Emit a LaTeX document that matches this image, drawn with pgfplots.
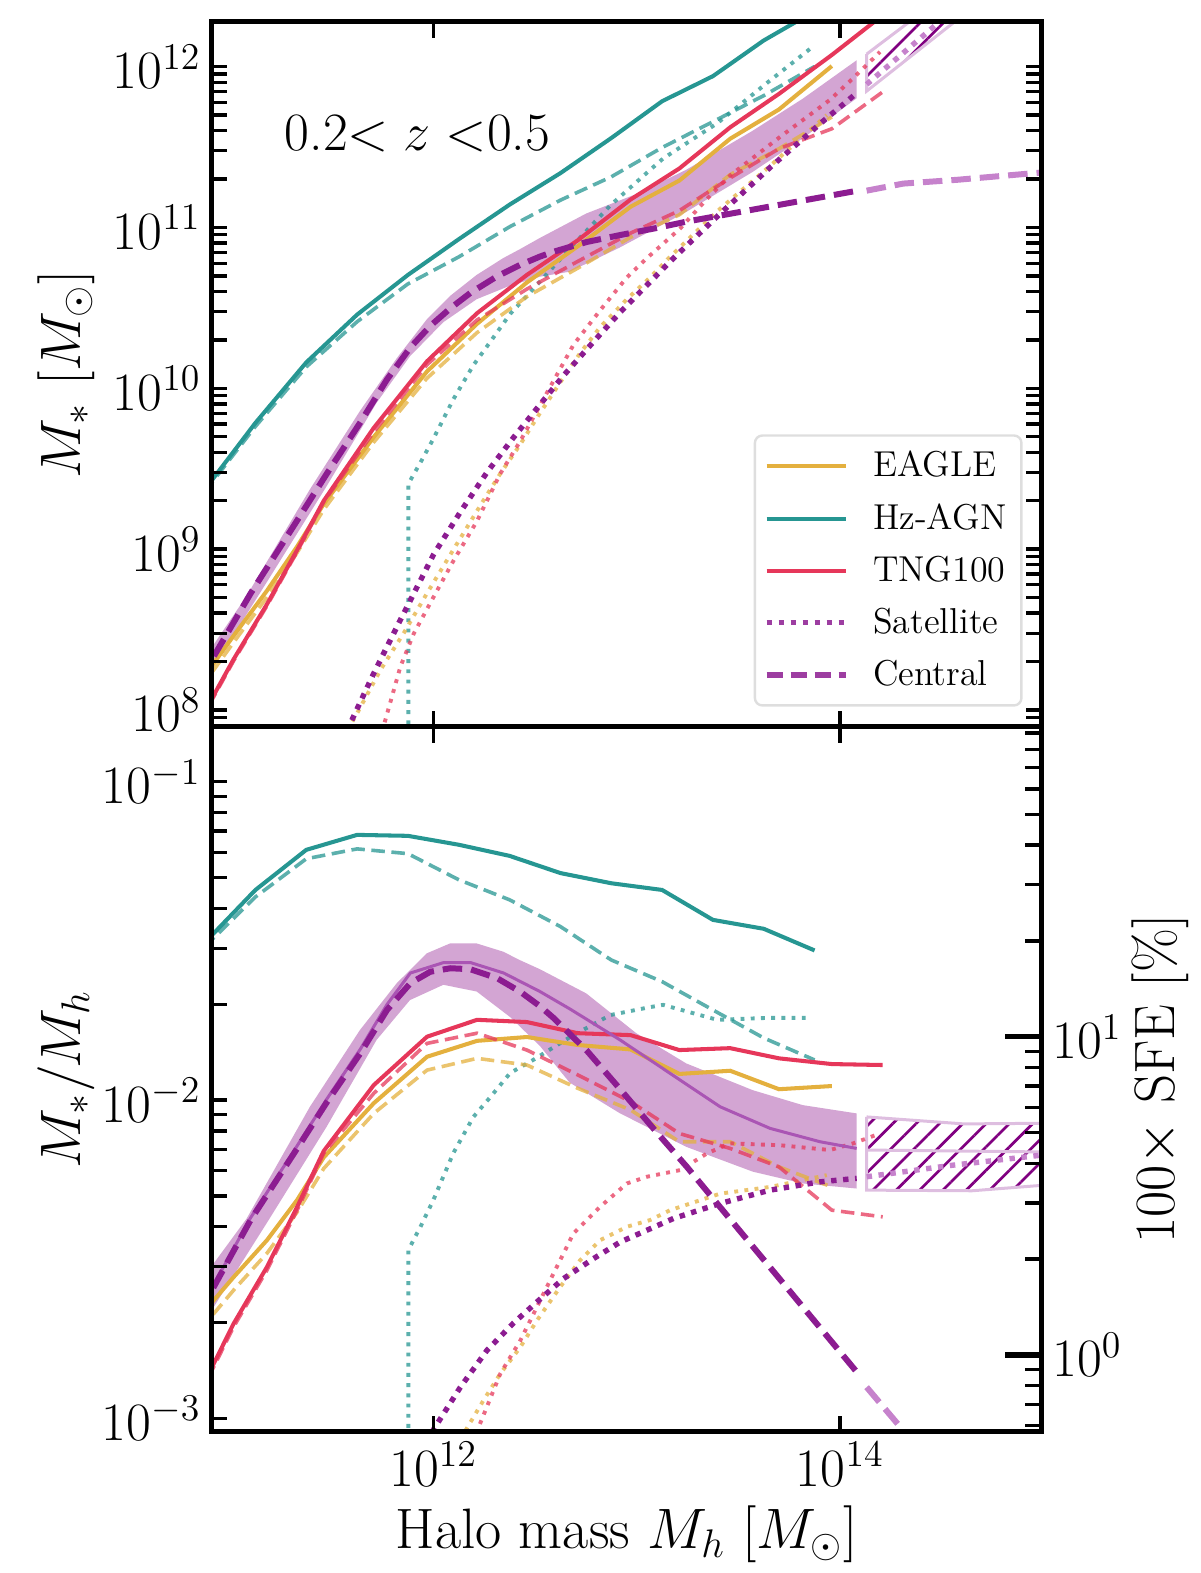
\RequirePackage{fix-cm}
\documentclass[border=0pt]{standalone}
\usepackage{pgfplots}
\usepackage{pgfplotstable}
\pgfplotsset{compat=1.18}
\usetikzlibrary{patterns.meta}

\definecolor{cEA}{RGB}{228,176,62}
\definecolor{cHZ}{RGB}{38,150,146}
\definecolor{cTN}{RGB}{230,55,90}
\definecolor{cPU}{RGB}{140,28,145}
\definecolor{cBand}{RGB}{211,165,211}
\definecolor{cMed}{RGB}{170,85,180}
\definecolor{cLight}{RGB}{198,130,204}
\definecolor{cHatchEdge}{RGB}{222,190,224}
\definecolor{cHatch}{RGB}{128,0,128}

% columns: L = log10 halo mass, r = log10 (M*/Mh)
\pgfplotstableread{
L r
10.875 -1.506
11.125 -1.340
11.375 -1.214
11.625 -1.167
11.875 -1.170
12.125 -1.198
12.375 -1.233
12.625 -1.287
12.875 -1.319
13.125 -1.340
13.375 -1.434
13.625 -1.462
13.875 -1.530
}\hzs
\pgfplotstableread{
L r
10.875 -1.519
11.125 -1.362
11.375 -1.242
11.625 -1.211
11.875 -1.226
12.125 -1.308
12.375 -1.371
12.625 -1.455
12.875 -1.560
13.125 -1.628
13.375 -1.717
13.625 -1.805
13.875 -1.874
}\hzd
\pgfplotstableread{
L r
11.877 -4.600
11.877 -2.472
11.902 -2.440
11.936 -2.399
12.000 -2.314
12.098 -2.167
12.197 -2.053
12.280 -1.991
12.378 -1.915
12.491 -1.874
12.673 -1.802
12.870 -1.733
13.066 -1.708
13.130 -1.701
13.396 -1.748
13.641 -1.742
13.862 -1.742
}\hzp
\pgfplotstableread{
L r
10.850 -2.681
10.920 -2.629
11.018 -2.556
11.182 -2.440
11.330 -2.314
11.461 -2.180
11.707 -2.010
11.969 -1.864
12.215 -1.814
12.460 -1.802
12.710 -1.827
12.970 -1.841
13.210 -1.918
13.460 -1.908
13.700 -1.966
13.960 -1.956
}\eas
\pgfplotstableread{
L r
10.850 -2.720
10.920 -2.671
11.018 -2.597
11.182 -2.481
11.330 -2.352
11.461 -2.215
11.707 -2.042
11.969 -1.906
12.215 -1.869
12.460 -1.890
12.710 -1.963
12.970 -2.031
13.210 -2.131
13.460 -2.131
13.700 -2.210
13.960 -2.273
}\ead
\pgfplotstableread{
L r
11.450 -3.850
11.625 -3.646
11.740 -3.491
11.854 -3.377
11.969 -3.243
12.100 -3.100
12.166 -3.030
12.247 -2.943
12.329 -2.860
12.428 -2.776
12.510 -2.692
12.624 -2.587
12.722 -2.503
12.821 -2.440
12.952 -2.398
13.066 -2.377
13.165 -2.346
13.410 -2.294
13.656 -2.273
13.935 -2.236
}\eap
\pgfplotstableread{
L r
10.850 -2.920
10.920 -2.828
11.018 -2.702
11.182 -2.524
11.330 -2.336
11.461 -2.160
11.707 -1.953
11.969 -1.801
12.215 -1.748
12.460 -1.755
12.710 -1.790
12.970 -1.796
13.210 -1.843
13.460 -1.837
13.700 -1.869
13.960 -1.887
14.210 -1.890
}\tns
\pgfplotstableread{
L r
10.850 -2.930
10.920 -2.838
11.018 -2.712
11.182 -2.534
11.330 -2.346
11.461 -2.167
11.707 -1.979
11.969 -1.822
12.215 -1.790
12.460 -1.843
12.710 -1.921
12.970 -2.005
13.210 -2.105
13.460 -2.152
13.700 -2.210
13.960 -2.346
14.210 -2.367
}\tnd
\pgfplotstableread{
L r
11.720 -3.980
11.764 -3.826
11.838 -3.569
11.903 -3.430
12.000 -3.300
12.100 -3.170
12.215 -3.040
12.329 -2.860
12.428 -2.755
12.591 -2.545
12.689 -2.419
12.821 -2.335
12.952 -2.262
13.050 -2.241
13.214 -2.220
13.345 -2.168
13.459 -2.136
13.705 -2.142
13.951 -2.157
14.065 -2.136
14.197 -2.105
}\tnp
\pgfplotstableread{
L r
10.850 -2.580
10.920 -2.513
11.082 -2.372
11.393 -2.021
11.639 -1.780
11.820 -1.633
11.968 -1.539
12.082 -1.508
12.213 -1.508
12.344 -1.534
12.424 -1.560
12.524 -1.589
12.752 -1.665
12.998 -1.790
13.244 -1.885
13.571 -1.969
13.817 -2.016
14.082 -2.042
14.082 -2.278
13.817 -2.262
13.571 -2.225
13.244 -2.147
12.916 -2.041
12.670 -1.945
12.524 -1.830
12.377 -1.739
12.213 -1.659
12.049 -1.638
11.885 -1.686
11.721 -1.811
11.475 -2.084
11.190 -2.377
10.920 -2.650
10.850 -2.720
}\band
\pgfplotstableread{
L r
14.131 -2.053
14.610 -2.075
14.992 -2.073
14.992 -2.268
14.650 -2.285
14.131 -2.283
14.131 -2.053
}\hatch
\pgfplotstableread{
L r
10.850 -2.660
10.920 -2.580
11.101 -2.370
11.314 -2.160
11.478 -1.995
11.641 -1.840
11.772 -1.700
11.887 -1.601
12.051 -1.568
12.182 -1.568
12.346 -1.601
12.524 -1.659
12.672 -1.714
12.918 -1.811
13.164 -1.916
13.410 -2.021
13.656 -2.089
13.902 -2.131
14.082 -2.152
}\med
\pgfplotstableread{
L r
14.131 -2.157
14.992 -2.163
}\medL
\pgfplotstableread{
L r
11.450 -3.920
11.592 -3.675
11.707 -3.479
11.838 -3.278
12.001 -3.035
12.133 -2.902
12.264 -2.786
12.395 -2.700
12.510 -2.634
12.640 -2.561
12.788 -2.498
12.919 -2.446
13.050 -2.409
13.181 -2.372
13.410 -2.325
13.656 -2.283
13.902 -2.257
14.082 -2.246
}\sat
\pgfplotstableread{
L r
14.131 -2.241
14.550 -2.205
14.992 -2.173
}\satL
\pgfplotstableread{
L r
10.850 -2.668
10.920 -2.587
11.101 -2.377
11.314 -2.168
11.478 -2.005
11.641 -1.853
11.772 -1.717
11.887 -1.633
11.985 -1.597
12.084 -1.586
12.182 -1.589
12.313 -1.617
12.428 -1.660
12.526 -1.706
12.591 -1.742
12.755 -1.845
12.919 -1.966
13.083 -2.090
13.247 -2.210
13.410 -2.336
13.750 -2.598
14.082 -2.854
}\cen
\pgfplotstableread{
L r
14.131 -2.902
14.311 -3.038
14.580 -3.283
14.992 -3.650
}\cenL

\tikzset{
  simS/.style={line width=1.35pt},
  simD/.style={line width=1.2pt, dash pattern=on 4.5pt off 2.2pt, opacity=0.75},
  simP/.style={line width=1.3pt, dash pattern=on 1.3pt off 2.1pt, opacity=0.75},
  cenS/.style={line width=2pt, dash pattern=on 6.5pt off 3pt},
  satS/.style={line width=1.8pt, dash pattern=on 1.8pt off 2.2pt},
}
\pgfplotsset{
  legend image code/.code={\draw[#1] (0pt,0pt) -- (26.5pt,0pt);},
}
\newcommand\FS{\fontsize{18}{21}\selectfont}
\newcommand\LS{\fontsize{19}{22}\selectfont}

% #1 = expression for log10 of the y value
\newcommand\allplots[1]{%
\addplot[forget plot, fill=cBand, draw=none] table[x expr={10^(\thisrow{L})}, y expr={10^(#1)}]{\band};
\addplot[forget plot, draw=cHatchEdge, line width=1pt, pattern={Lines[angle=45,distance=5.5pt,line width=0.9pt]}, pattern color=cHatch] table[x expr={10^(\thisrow{L})}, y expr={10^(#1)}]{\hatch};
\addplot[forget plot, cHZ, simS] table[x expr={10^(\thisrow{L})}, y expr={10^(#1)}]{\hzs};
\addplot[forget plot, cHZ, simD] table[x expr={10^(\thisrow{L})}, y expr={10^(#1)}]{\hzd};
\addplot[forget plot, cHZ, simP] table[x expr={10^(\thisrow{L})}, y expr={10^(#1)}]{\hzp};
\addplot[forget plot, cEA, simS] table[x expr={10^(\thisrow{L})}, y expr={10^(#1)}]{\eas};
\addplot[forget plot, cEA, simD] table[x expr={10^(\thisrow{L})}, y expr={10^(#1)}]{\ead};
\addplot[forget plot, cEA, simP] table[x expr={10^(\thisrow{L})}, y expr={10^(#1)}]{\eap};
\addplot[forget plot, cTN, simS] table[x expr={10^(\thisrow{L})}, y expr={10^(#1)}]{\tns};
\addplot[forget plot, cTN, simD] table[x expr={10^(\thisrow{L})}, y expr={10^(#1)}]{\tnd};
\addplot[forget plot, cTN, simP] table[x expr={10^(\thisrow{L})}, y expr={10^(#1)}]{\tnp};
}
\newcommand\modelplots[1]{%
\addplot[forget plot, cPU, satS] table[x expr={10^(\thisrow{L})}, y expr={10^(#1)}]{\sat};
\addplot[forget plot, cLight, satS] table[x expr={10^(\thisrow{L})}, y expr={10^(#1)}]{\satL};
\addplot[forget plot, cPU, cenS] table[x expr={10^(\thisrow{L})}, y expr={10^(#1)}]{\cen};
\addplot[forget plot, cLight, cenS] table[x expr={10^(\thisrow{L})}, y expr={10^(#1)}]{\cenL};
}

\begin{document}
\begin{tikzpicture}
\useasboundingbox (0,0) rectangle (400pt,524.33pt);

% ---------------- top panel ----------------
\begin{axis}[
  xmode=log, ymode=log, scale only axis,
  width=276.73pt, height=235pt,
  at={(70.5pt,282.1pt)}, anchor=south west,
  xmin=8.11e10, xmax=9.82e14,
  ymin=7.87e7, ymax=1.905e12,
  axis on top,
  axis line style={line width=1.8pt},
  xtick={1e12,1e14}, xminorticks=false,
  major tick length=5.3pt, minor tick length=5.2pt,
  every major tick/.append style={line width=1.1pt, black},
  every minor tick/.append style={line width=1.1pt, black},
  tick label style={font=\FS},
  every axis y label/.style={at={(axis description cs:-0.175,0.5)}, rotate=90, anchor=center, font=\LS},
  ytick pos=both, yticklabel pos=left,
  xtick pos=both, xticklabel=\empty,
  ylabel={$M_*$ [$M_\odot$]},
  legend style={at={(0.977,0.0284)}, anchor=south east,
    font=\fontsize{12}{14}\selectfont, draw=black!13, line width=0.8pt,
    rounded corners=2.5pt, fill=white, inner xsep=3pt, inner ysep=3.2pt,
    row sep=3.4pt, /tikz/every odd column/.append style={column sep=6pt}},
  legend cell align=left,
]
\allplots{\thisrow{L}+\thisrow{r}}
\modelplots{\thisrow{L}+\thisrow{r}}
\node[font=\FS] at (axis description cs:0.248,0.842) {0.2$<z<$0.5};
\addlegendimage{cEA, line width=1.35pt}\addlegendentry{EAGLE}
\addlegendimage{cHZ, line width=1.35pt}\addlegendentry{Hz-AGN}
\addlegendimage{cTN, line width=1.35pt}\addlegendentry{TNG100}
\addlegendimage{cPU, opacity=0.85, line width=1.6pt, dash pattern=on 1.6pt off 2.4pt}\addlegendentry{Satellite}
\addlegendimage{cPU, opacity=0.85, line width=1.9pt, dash pattern=on 5.5pt off 2.5pt}\addlegendentry{Central}
\end{axis}

% ---------------- bottom panel ----------------
\begin{axis}[
  xmode=log, ymode=log, scale only axis,
  width=276.73pt, height=235pt,
  at={(70.5pt,47.1pt)}, anchor=south west,
  xmin=8.11e10, xmax=9.82e14,
  ymin=9.08e-4, ymax=0.1489,
  axis on top,
  axis line style={line width=1.8pt},
  xtick={1e12,1e14}, xminorticks=false,
  major tick length=5.3pt, minor tick length=5.2pt,
  every major tick/.append style={line width=1.1pt, black},
  every minor tick/.append style={line width=1.1pt, black},
  tick label style={font=\FS},
  every axis y label/.style={at={(axis description cs:-0.175,0.5)}, rotate=90, anchor=center, font=\LS},
  every axis x label/.style={at={(axis description cs:0.5,-0.146)}, anchor=center, font=\LS},
  ytick pos=left,
  xtick pos=both, xticklabel pos=bottom,
  ylabel={$M_*/M_h$},
  xlabel={Halo mass $M_h$ [$M_\odot$]},
]
\allplots{\thisrow{r}}
\addplot[forget plot, cMed, line width=1pt] table[x expr={10^(\thisrow{L})}, y expr={10^(\thisrow{r})}]{\med};
\addplot[forget plot, cHatchEdge, line width=1pt] table[x expr={10^(\thisrow{L})}, y expr={10^(\thisrow{r})}]{\medL};
\modelplots{\thisrow{r}}
\end{axis}

% ---------------- SFE axis ----------------
\begin{axis}[
  ymode=log, scale only axis,
  width=276.73pt, height=235pt,
  at={(70.5pt,47.1pt)}, anchor=south west,
  xmin=0, xmax=1,
  ymin=0.574, ymax=94.2,
  axis x line=none, axis y line*=right,
  axis line style={line width=1.8pt},
  yticklabel pos=right,
  major tick length=12.3pt, minor tick length=5.5pt,
  every major tick/.append style={line width=1.8pt, black},
  every minor tick/.append style={line width=1.1pt, black},
  tick label style={font=\FS},
  every axis y label/.style={at={(axis description cs:1.1425,0.5)}, rotate=90, anchor=center, font=\LS},
  ylabel={100$\times$ SFE [\%]},
]
\addplot[draw=none, forget plot] coordinates {(0.2,1) (0.8,2)};
\end{axis}
\end{tikzpicture}
\end{document}
